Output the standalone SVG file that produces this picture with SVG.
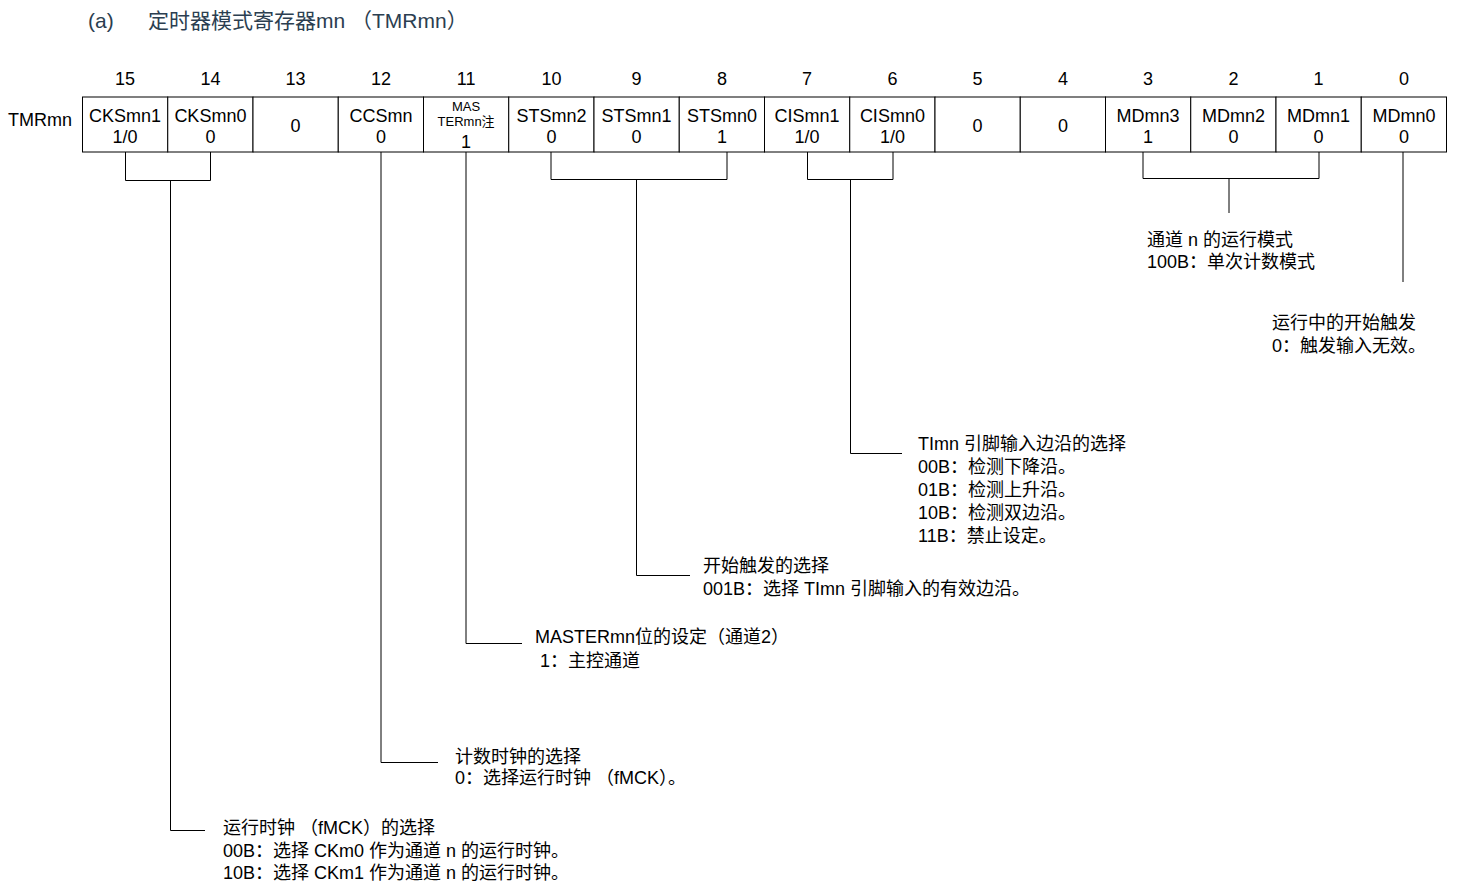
<svg xmlns="http://www.w3.org/2000/svg" width="1458" height="884" viewBox="0 0 1458 884">
<style>
text{font-family:"Liberation Sans","Noto Sans CJK SC",sans-serif;font-size:18px;fill:#000}
.t{fill:#2b3e50;font-size:21px}
.c{text-anchor:middle}
.s{font-size:13px}
.cell{fill:#fff;stroke:#000;stroke-width:1}
.ln{fill:none;stroke:#000;stroke-width:1}
</style>
<rect width="1458" height="884" fill="#fff"/>
<g id="title">
<text class="t" x="88" y="27.5">(a)</text>
<text class="t" x="148" y="27.5">定时器模式寄存器mn （TMRmn）</text>
</g>
<g id="bitnums">
<text class="c" x="125.1" y="84.5">15</text>
<text class="c" x="210.4" y="84.5">14</text>
<text class="c" x="295.6" y="84.5">13</text>
<text class="c" x="380.9" y="84.5">12</text>
<text class="c" x="466.1" y="84.5">11</text>
<text class="c" x="551.4" y="84.5">10</text>
<text class="c" x="636.6" y="84.5">9</text>
<text class="c" x="721.9" y="84.5">8</text>
<text class="c" x="807.1" y="84.5">7</text>
<text class="c" x="892.4" y="84.5">6</text>
<text class="c" x="977.6" y="84.5">5</text>
<text class="c" x="1062.9" y="84.5">4</text>
<text class="c" x="1148.1" y="84.5">3</text>
<text class="c" x="1233.4" y="84.5">2</text>
<text class="c" x="1318.6" y="84.5">1</text>
<text class="c" x="1403.9" y="84.5">0</text>
</g>
<g id="register">
<text x="8" y="126">TMRmn</text>
<g id="b15"><rect class="cell" x="82.5" y="97" width="85.25" height="55"/><text class="c" x="125.1" y="121.5">CKSmn1</text><text class="c" x="125.1" y="142.5">1/0</text></g>
<g id="b14"><rect class="cell" x="167.75" y="97" width="85.25" height="55"/><text class="c" x="210.4" y="121.5">CKSmn0</text><text class="c" x="210.4" y="142.5">0</text></g>
<g id="b13"><rect class="cell" x="253" y="97" width="85.25" height="55"/><text class="c" x="295.6" y="131.5">0</text></g>
<g id="b12"><rect class="cell" x="338.25" y="97" width="85.25" height="55"/><text class="c" x="380.9" y="121.5">CCSmn</text><text class="c" x="380.9" y="142.5">0</text></g>
<g id="b11"><rect class="cell" x="423.5" y="97" width="85.25" height="55"/><text class="c s" x="466.1" y="111">MAS</text><text class="c s" x="466.1" y="126">TERmn注</text><text class="c" x="466.1" y="147.5">1</text></g>
<g id="b10"><rect class="cell" x="508.75" y="97" width="85.25" height="55"/><text class="c" x="551.4" y="121.5">STSmn2</text><text class="c" x="551.4" y="142.5">0</text></g>
<g id="b9"><rect class="cell" x="594" y="97" width="85.25" height="55"/><text class="c" x="636.6" y="121.5">STSmn1</text><text class="c" x="636.6" y="142.5">0</text></g>
<g id="b8"><rect class="cell" x="679.25" y="97" width="85.25" height="55"/><text class="c" x="721.9" y="121.5">STSmn0</text><text class="c" x="721.9" y="142.5">1</text></g>
<g id="b7"><rect class="cell" x="764.5" y="97" width="85.25" height="55"/><text class="c" x="807.1" y="121.5">CISmn1</text><text class="c" x="807.1" y="142.5">1/0</text></g>
<g id="b6"><rect class="cell" x="849.75" y="97" width="85.25" height="55"/><text class="c" x="892.4" y="121.5">CISmn0</text><text class="c" x="892.4" y="142.5">1/0</text></g>
<g id="b5"><rect class="cell" x="935" y="97" width="85.25" height="55"/><text class="c" x="977.6" y="131.5">0</text></g>
<g id="b4"><rect class="cell" x="1020.25" y="97" width="85.25" height="55"/><text class="c" x="1062.9" y="131.5">0</text></g>
<g id="b3"><rect class="cell" x="1105.5" y="97" width="85.25" height="55"/><text class="c" x="1148.1" y="121.5">MDmn3</text><text class="c" x="1148.1" y="142.5">1</text></g>
<g id="b2"><rect class="cell" x="1190.75" y="97" width="85.25" height="55"/><text class="c" x="1233.4" y="121.5">MDmn2</text><text class="c" x="1233.4" y="142.5">0</text></g>
<g id="b1"><rect class="cell" x="1276" y="97" width="85.25" height="55"/><text class="c" x="1318.6" y="121.5">MDmn1</text><text class="c" x="1318.6" y="142.5">0</text></g>
<g id="b0"><rect class="cell" x="1361.25" y="97" width="85.25" height="55"/><text class="c" x="1403.9" y="121.5">MDmn0</text><text class="c" x="1403.9" y="142.5">0</text></g>
</g>
<g id="connectors">
<path class="ln" d="M125.5 152V180.5H210.5V152M170.5 180.5V830.5H205"/>
<path class="ln" d="M381 152V762.5H438"/>
<path class="ln" d="M466 152V643.5H522"/>
<path class="ln" d="M551 152V179.5H727V152M636.5 179.5V575.5H690"/>
<path class="ln" d="M807.5 152V179.5H893V152M850.5 179.5V453.5H902"/>
<path class="ln" d="M1143 152V178.5H1319V152M1229 178.5V213"/>
<path class="ln" d="M1403 152V282"/>
</g>
<g id="desc-md">
<text x="1147" y="246">通道 n 的运行模式</text>
<text x="1147" y="268">100B：单次计数模式</text>
</g>
<g id="desc-md0">
<text x="1272" y="329">运行中的开始触发</text>
<text x="1272" y="352">0：触发输入无效。</text>
</g>
<g id="desc-cis">
<text x="918" y="450">TImn 引脚输入边沿的选择</text>
<text x="918" y="473">00B：检测下降沿。</text>
<text x="918" y="496">01B：检测上升沿。</text>
<text x="918" y="519">10B：检测双边沿。</text>
<text x="918" y="542">11B：禁止设定。</text>
</g>
<g id="desc-sts">
<text x="703" y="572">开始触发的选择</text>
<text x="703" y="595">001B：选择 TImn 引脚输入的有效边沿。</text>
</g>
<g id="desc-master">
<text x="535" y="643">MASTERmn位的设定（通道2）</text>
<text x="540" y="667">1：主控通道</text>
</g>
<g id="desc-ccs">
<text x="455" y="763">计数时钟的选择</text>
<text x="455" y="784">0：选择运行时钟 （fMCK）。</text>
</g>
<g id="desc-cks">
<text x="223" y="834">运行时钟 （fMCK）的选择</text>
<text x="223" y="857">00B：选择 CKm0 作为通道 n 的运行时钟。</text>
<text x="223" y="879">10B：选择 CKm1 作为通道 n 的运行时钟。</text>
</g>
</svg>
